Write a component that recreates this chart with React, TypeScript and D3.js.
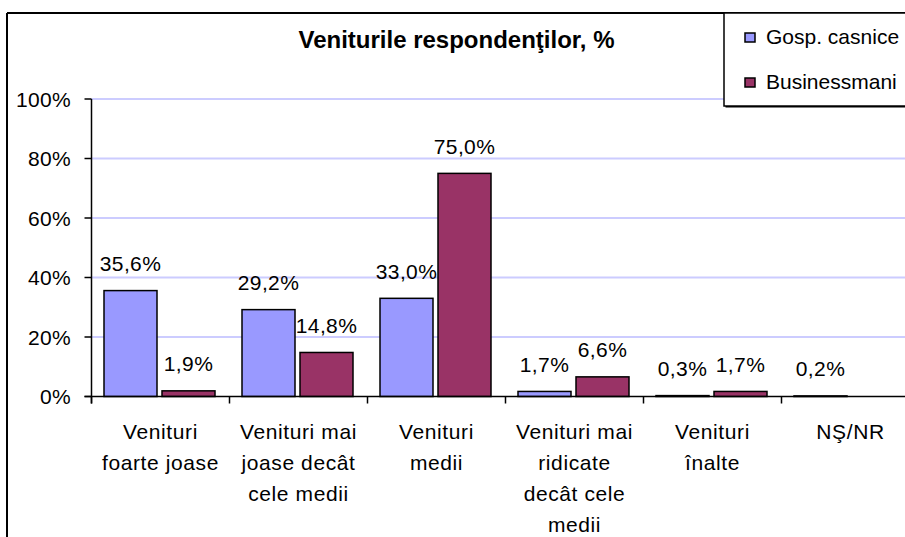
import React from "react";
import * as d3 from "d3";

const categories = [
  "Venituri\nfoarte joase",
  "Venituri mai\njoase decât\ncele medii",
  "Venituri\nmedii",
  "Venituri mai\nridicate\ndecât cele\nmedii",
  "Venituri\nînalte",
  "NŞ/NR",
];
const seriesNames = ["Gosp. casnice", "Businessmani"];
const gospValues = [35.6, 29.2, 33.0, 1.7, 0.3, 0.2];
const businessValues = [1.9, 14.8, 75.0, 6.6, 1.7, null];
const yTicks = [0, 20, 40, 60, 80, 100];
const title = "Veniturile respondenţilor, %";

const colors = ["#9999FF", "#993366"];
const FONT = "'Liberation Sans', Arial, sans-serif";

export default function App() {
  const W = 905;
  const H = 537;
  const plotLeft = 91.5;
  const catW = 138;
  const plotRight = plotLeft + catW * categories.length;
  const y0 = 396.5;
  const y100 = 99;

  const x0 = d3.scaleBand<number>().domain(categories.map((_, i) => i)).range([plotLeft, plotRight]).padding(0);
  const x1 = d3.scaleBand<number>().domain([0, 1]).range([12.5, 123.5]).paddingInner(5 / 58).paddingOuter(0);
  const y = d3.scaleLinear().domain([0, 100]).range([y0, y100]);

  const series = [gospValues, businessValues];
  const fmt = (v: number) => v.toFixed(1).replace(".", ",") + "%";

  return (
    <svg width={W} height={H} style={{ display: "block", position: "absolute", left: 0, top: 0, background: "#fff" }} fontFamily={FONT}>
      <rect x={0} y={0} width={W} height={H} fill="#fff" />
      {/* outer chart border */}
      <line x1={7} y1={13} x2={W + 5} y2={13} stroke="#000" strokeWidth={2} />
      <line x1={7} y1={13} x2={7} y2={H + 5} stroke="#000" strokeWidth={2} />

      {/* gridlines */}
      {yTicks.filter(t => t > 0).map(t => (
        <line key={"g" + t} x1={plotLeft} x2={W + 5} y1={y(t)} y2={y(t)} stroke="#CCCCFF" strokeWidth={2} />
      ))}

      {/* bars */}
      {series.map((vals, si) =>
        vals.map((v, ci) =>
          v == null ? null : (
            <rect
              key={`b${si}-${ci}`}
              x={(x0(ci) as number) + (x1(si) as number)}
              y={y(v)}
              width={x1.bandwidth()}
              height={y0 - y(v)}
              fill={colors[si]}
              stroke="#000"
              strokeWidth={1.5}
            />
          )
        )
      )}

      {/* value labels */}
      {series.map((vals, si) =>
        vals.map((v, ci) =>
          v == null ? null : (
            <text
              key={`l${si}-${ci}`}
              x={(x0(ci) as number) + (x1(si) as number) + x1.bandwidth() / 2}
              y={y(v) - 19.5}
              textAnchor="middle"
              fontSize={21}
              letterSpacing={0.4}
              fill="#000"
            >
              {fmt(v)}
            </text>
          )
        )
      )}

      {/* y axis */}
      <line x1={plotLeft} x2={plotLeft} y1={y100} y2={y0 + 7} stroke="#000" strokeWidth={1.5} />
      {yTicks.map(t => (
        <g key={"yt" + t}>
          <line x1={plotLeft - 7} x2={plotLeft} y1={y(t)} y2={y(t)} stroke="#000" strokeWidth={1.5} />
          <text x={71} y={y(t) + 7.5} textAnchor="end" fontSize={21} letterSpacing={0.3} fill="#000">
            {t + "%"}
          </text>
        </g>
      ))}

      {/* x axis */}
      <line x1={plotLeft - 7} x2={W + 5} y1={y0} y2={y0} stroke="#000" strokeWidth={1.5} />
      {categories.map((c, i) => (
        <g key={"xc" + i}>
          <line x1={x0(i) as number} x2={x0(i) as number} y1={y0} y2={y0 + 7} stroke="#000" strokeWidth={1.5} />
          <text textAnchor="middle" fontSize={21} letterSpacing={0.6} fill="#000">
            {c.split("\n").map((line, li) => (
              <tspan key={li} x={(x0(i) as number) + x0.bandwidth() / 2} y={438.5 + li * 31}>
                {line}
              </tspan>
            ))}
          </text>
        </g>
      ))}

      {/* title */}
      <text x={456.5} y={48} textAnchor="middle" fontSize={24} fontWeight="bold" fill="#000">
        {title}
      </text>

      {/* legend */}
      <rect x={725.5} y={14.5} width={W} height={93} fill="#000" />
      <rect x={724} y={13} width={W} height={93} fill="#fff" stroke="#000" strokeWidth={1.5} />
      {seriesNames.map((s, i) => (
        <g key={"lg" + i}>
          <rect x={745} y={33 + i * 45} width={10} height={9} fill={colors[i]} stroke="#000" strokeWidth={1.5} />
          <text x={766} y={44 + i * 44.5} fontSize={21} fill="#000">
            {s}
          </text>
        </g>
      ))}
    </svg>
  );
}
